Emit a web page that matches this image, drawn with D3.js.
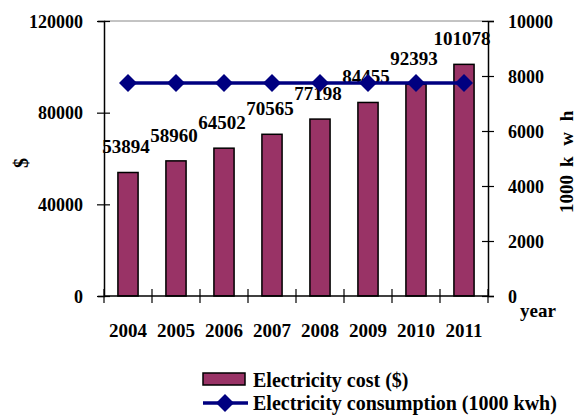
<!DOCTYPE html>
<html>
<head>
<meta charset="utf-8">
<script src="https://cdn.jsdelivr.net/npm/d3@7"></script>
<style>
  body { margin: 0; background: #fff; }
  svg { display: block; }
</style>
</head>
<body>
<svg width="581" height="417"></svg>
<script>
'use strict';

// Data.
const years = ['2004', '2005', '2006', '2007', '2008', '2009', '2010', '2011'];
const cost = [53894, 58960, 64502, 70565, 77198, 84455, 92393, 101078];
const consumption = [7750, 7750, 7750, 7750, 7750, 7750, 7750, 7750];
const costTicks = [0, 40000, 80000, 120000];
const kwhTicks = [0, 2000, 4000, 6000, 8000, 10000];

const barColor = '#993366';
const lineColor = '#000080';
const serif = '"Liberation Serif", "Times New Roman", serif';

const plot = { left: 104, right: 488, top: 21, bottom: 296 };

const svg = d3.select('svg');

// Same look for every text on the chart.
function font(sel, size) {
  sel.style('font-family', serif)
    .style('font-weight', 'bold')
    .style('font-size', size + 'px')
    .attr('fill', '#000');
}

const x = d3.scaleBand()
  .domain(years)
  .range([plot.left, plot.right]);

const yCost = d3.scaleLinear()
  .domain([0, 120000])
  .range([plot.bottom, plot.top]);

const yKwh = d3.scaleLinear()
  .domain([0, 10000])
  .range([plot.bottom, plot.top]);

const barWidth = x.bandwidth() * 0.42;

// Top border of plot area
svg.append('line')
  .attr('x1', plot.left).attr('x2', plot.right)
  .attr('y1', plot.top).attr('y2', plot.top)
  .attr('stroke', '#888').attr('stroke-width', 1);

// Bars
svg.append('g')
  .selectAll('rect')
  .data(cost)
  .join('rect')
  .attr('x', (d, i) => x(years[i]) + x.bandwidth() / 2 - barWidth / 2)
  .attr('y', d => yCost(d))
  .attr('width', barWidth)
  .attr('height', d => yCost(0) - yCost(d))
  .attr('fill', barColor)
  .attr('stroke', '#000')
  .attr('stroke-width', 1.5);

// Left axis
const leftAxis = svg.append('g')
  .attr('transform', `translate(${plot.left},0)`)
  .call(d3.axisLeft(yCost).tickValues(costTicks).tickFormat(d3.format('d'))
    .tickSizeOuter(0).tickSize(6).tickPadding(15));
leftAxis.selectAll('.tick line').attr('x1', 6).attr('x2', -7);

// Right axis
const rightAxis = svg.append('g')
  .attr('transform', `translate(${plot.right},0)`)
  .call(d3.axisRight(yKwh).tickValues(kwhTicks).tickFormat(d3.format('d'))
    .tickSizeOuter(0).tickSize(6).tickPadding(14));
rightAxis.selectAll('.tick line').attr('x1', -6).attr('x2', 6);

[leftAxis, rightAxis].forEach(ax => {
  ax.attr('font-family', null).attr('font-size', null);
  ax.select('.domain').attr('stroke', '#000').attr('stroke-width', 1.5);
  ax.selectAll('.tick line').attr('stroke', '#000').attr('stroke-width', 1.2);
  ax.selectAll('.tick text')
    .attr('dy', '0.34em')
    .call(font, 18);
});

// X axis
svg.append('line')
  .attr('x1', plot.left).attr('x2', plot.right)
  .attr('y1', plot.bottom).attr('y2', plot.bottom)
  .attr('stroke', '#000').attr('stroke-width', 1.5);

const bounds = years.map(y => x(y)).concat([plot.right]);
svg.append('g')
  .selectAll('line')
  .data(bounds)
  .join('line')
  .attr('x1', d => d).attr('x2', d => d)
  .attr('y1', plot.bottom - 7).attr('y2', plot.bottom + 7)
  .attr('stroke', '#000').attr('stroke-width', 1.2);

svg.append('g')
  .selectAll('text')
  .data(years)
  .join('text')
  .attr('x', d => x(d) + x.bandwidth() / 2)
  .attr('y', 337)
  .attr('text-anchor', 'middle')
  .call(font, 19)
  .text(d => d);

// Data labels
svg.append('g')
  .selectAll('text')
  .data(cost)
  .join('text')
  .attr('x', (d, i) => x(years[i]) + x.bandwidth() / 2 - 2)
  .attr('y', d => yCost(d) - 19)
  .attr('text-anchor', 'middle')
  .call(font, 19)
  .text(d => d);

// Consumption line
const line = d3.line()
  .x((d, i) => x(years[i]) + x.bandwidth() / 2)
  .y(d => yKwh(d));

svg.append('path')
  .datum(consumption)
  .attr('d', line)
  .attr('fill', 'none')
  .attr('stroke', lineColor)
  .attr('stroke-width', 3.5);

const diamond = 'M0,-9L9,0L0,9L-9,0Z';
svg.append('g')
  .selectAll('path')
  .data(consumption)
  .join('path')
  .attr('transform', (d, i) => `translate(${x(years[i]) + x.bandwidth() / 2},${yKwh(d)})`)
  .attr('d', diamond)
  .attr('fill', lineColor);

// Axis titles
svg.append('text')
  .attr('transform', 'translate(28,163) rotate(-90)')
  .attr('text-anchor', 'middle')
  .call(font, 20)
  .text('$');

const kwhTitle = svg.append('text')
  .attr('transform', 'translate(573,213) rotate(-90)')
  .call(font, 19);
kwhTitle.append('tspan').text('1000');
kwhTitle.append('tspan').attr('dx', 8).style('letter-spacing', '3px').text('k w h');

svg.append('text')
  .attr('x', 520)
  .attr('y', 317)
  .call(font, 19)
  .text('year');

// Legend
const legend = svg.append('g');
legend.append('rect')
  .attr('x', 203).attr('y', 373)
  .attr('width', 42).attr('height', 12)
  .attr('fill', barColor)
  .attr('stroke', '#000')
  .attr('stroke-width', 1.5);
legend.append('text')
  .attr('x', 253).attr('y', 387)
  .call(font, 20)
  .text('Electricity cost ($)');

legend.append('line')
  .attr('x1', 203).attr('x2', 248)
  .attr('y1', 403).attr('y2', 403)
  .attr('stroke', lineColor)
  .attr('stroke-width', 3.5);
legend.append('path')
  .attr('transform', 'translate(225,403)')
  .attr('d', diamond)
  .attr('fill', lineColor);
legend.append('text')
  .attr('x', 253).attr('y', 410)
  .call(font, 20)
  .text('Electricity consumption (1000 kwh)');
</script>
</body>
</html>
